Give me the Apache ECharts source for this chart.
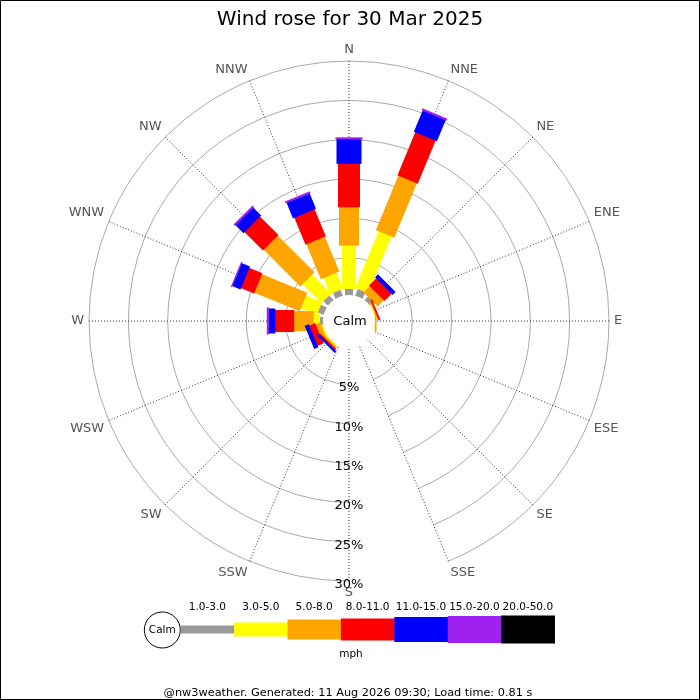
<!DOCTYPE html>
<html><head><meta charset="utf-8">
<script src="https://cdn.jsdelivr.net/npm/echarts@6/dist/echarts.min.js"></script>
<style>html,body{margin:0;padding:0;background:#fff}#c{width:700px;height:700px}</style>
</head><body><div id="c"></div>
<script>
// ---- data (percent of time, per direction, per speed class) ----
const directions = ['N','NNE','NE','ENE','E','ESE','SE','SSE','S','SSW','SW','WSW','W','WNW','NW','NNW'];
const speedClasses = ['1.0-3.0','3.0-5.0','5.0-8.0','8.0-11.0','11.0-15.0','15.0-20.0','20.0-50.0'];
const speed1to3   = [1.1, 1.2, 0.9, 0,    0,    0,0,0,0,0, 0,    0,   0.7, 1.1, 1.1, 1.1];
const speed3to5   = [5.5, 7.8, 0,   0.4,  0.3,  0,0,0,0,0, 0.45, 0.5, 0.8, 2.2, 3.4, 2.2];
const speed5to8   = [4.9, 7.5, 1.1, 0.15, 0.15, 0,0,0,0,0, 0.25, 0.6, 2.5, 6.2, 6.6, 4.8];
const speed8to11  = [5.5, 5.9, 1.3, 0.15, 0,    0,0,0,0,0, 0.2,  0.8, 2.4, 1.8, 3.3, 3.7];
const speed11to15 = [3.1, 2.9, 0.45,0,    0,    0,0,0,0,0, 0.2,  0.5, 0.8, 1.1, 1.4, 2.1];
const speed15to20 = [0.2, 0.2, 0,   0,    0,    0,0,0,0,0, 0,    0,   0.2, 0.1, 0.2, 0.2];
const speed20to50 = [0,   0,   0,   0,    0,    0,0,0,0,0, 0,    0,   0,   0,   0,   0];
const percentTicks = [0, 5, 10, 15, 20, 25, 30];
const titleText = 'Wind rose for 30 Mar 2025';
const unitText = 'mph';
const calmText = 'Calm';
const footerText = '@nw3weather. Generated: 11 Aug 2026 09:30; Load time: 0.81 s';

// ---- styles ----
const classColors = ['#999999','#ffff00','#ffa500','#ff0000','#0000ff','#a020f0','#000000'];
const classWidths = [8, 14, 20, 22, 25, 27, 28];
const FONT = 'DejaVu Sans';
const CX = 349, CY = 321, R0 = 24, R1 = 260;

const classValues = [speed1to3, speed3to5, speed5to8, speed8to11, speed11to15, speed15to20, speed20to50];
// angle axis ordered clockwise from south (radius axis points down)
const axisOrder = directions.slice(8).concat(directions.slice(0, 8));

const series = classValues.map((vals, k) => {
  const data = [];
  directions.forEach((d, i) => {
    let start = 0;
    for (let j = 0; j < k; j++) start += classValues[j][i];
    const v = vals[i];
    if (v > 0) data.push([start + v, axisOrder.indexOf(d), start]);
  });
  const hw = classWidths[k] / 2;
  return {
    type: 'custom',
    name: speedClasses[k],
    coordinateSystem: 'polar',
    polarIndex: 0,
    data: data,
    z: 5,
    renderItem: function (params, api) {
      const end = api.value(0), cat = api.value(1), start = api.value(2);
      const cs = params.coordSys;
      const p0 = api.coord([start, cat]);
      const p1 = api.coord([end, cat]);
      let ux = p1[0] - cs.cx, uy = p1[1] - cs.cy;
      const len = Math.hypot(ux, uy) || 1;
      ux /= len; uy /= len;
      // extend the inner edge slightly so stacked segments meet without seams
      const a = [p0[0] - ux * 0.6, p0[1] - uy * 0.6];
      const nx = -uy * hw, ny = ux * hw;
      return {
        type: 'polygon',
        shape: { points: [
          [a[0] + nx, a[1] + ny], [p1[0] + nx, p1[1] + ny],
          [p1[0] - nx, p1[1] - ny], [a[0] - nx, a[1] - ny]
        ] },
        style: { fill: classColors[k], stroke: null }
      };
    }
  };
});

// ---- legend key (graphic) ----
const graphics = [];
graphics.push({ type: 'rect', shape: { x: 0.5, y: 0.5, width: 699, height: 699 },
  style: { fill: null, stroke: '#000', lineWidth: 1 }, z: 200, silent: true });
graphics.push({ type: 'circle', shape: { cx: CX, cy: CY, r: 26 }, style: { fill: '#fff', stroke: null }, z: 100 });
graphics.push({ type: 'text', x: CX + 1, y: CY + 1, style: { text: calmText, font: '13px "' + FONT + '"', fill: '#000', align: 'center', verticalAlign: 'middle' }, z: 101 });

const legX0 = 180.7, legW = 53.4, legCY = 629.5;
graphics.push({ type: 'circle', shape: { cx: 162.3, cy: 630, r: 18 }, style: { fill: '#fff', stroke: '#000', lineWidth: 1 }, z: 100 });
graphics.push({ type: 'text', x: 162.3, y: 630, style: { text: calmText, font: '10.5px "' + FONT + '"', fill: '#000', align: 'center', verticalAlign: 'middle' }, z: 101 });
speedClasses.forEach((lab, k) => {
  const h = classWidths[k];
  graphics.push({ type: 'rect', shape: { x: legX0 + k * legW, y: legCY - h / 2, width: legW + 0.5, height: h },
    style: { fill: classColors[k], stroke: null }, z: 100 });
  graphics.push({ type: 'text', x: legX0 + k * legW + legW / 2, y: 607.5, style: { text: lab, font: '10.5px "' + FONT + '"', fill: '#000', align: 'center', verticalAlign: 'middle' }, z: 101 });
});
graphics.push({ type: 'text', x: 351, y: 654, style: { text: unitText, font: '10.5px "' + FONT + '"', fill: '#000', align: 'center', verticalAlign: 'middle' }, z: 101 });
graphics.push({ type: 'text', x: 348, y: 693, style: { text: footerText, font: '11.3px "' + FONT + '"', fill: '#000', align: 'center', verticalAlign: 'middle' }, z: 101 });

const option = {
  animation: false,
  backgroundColor: '#fff',
  title: {
    text: titleText, left: 'center', top: 5,
    textStyle: { fontFamily: FONT, fontSize: 20, fontWeight: 'normal', color: '#000' }
  },
  polar: [{ center: [CX, CY], radius: [R0, R1] }],
  angleAxis: [{
    polarIndex: 0, type: 'category', data: axisOrder, boundaryGap: false,
    startAngle: 270, clockwise: true,
    axisLine: { show: false }, axisTick: { show: false },
    axisLabel: { margin: 5, color: '#555', fontSize: 13, fontFamily: FONT },
    splitLine: { show: true, lineStyle: { color: '#333', width: 1, type: [1, 2] } }
  }],
  radiusAxis: [{
    polarIndex: 0, type: 'value', min: percentTicks[0], max: percentTicks[percentTicks.length - 1], interval: 5,
    axisLine: { show: false }, axisTick: { show: false },
    axisLabel: {
      margin: 0, align: 'center', verticalAlign: 'top', lineHeight: 7,
      color: '#000', fontSize: 13, fontFamily: FONT,
      formatter: v => (percentTicks.indexOf(v) > 0 ? v + '%' : '')
    },
    splitLine: { show: true, lineStyle: { color: '#aaa', width: 1 } }
  }],
  series: series,
  graphic: graphics
};
const chart = echarts.init(document.getElementById('c'), null, { renderer: 'canvas' });
chart.setOption(option);
</script></body></html>
